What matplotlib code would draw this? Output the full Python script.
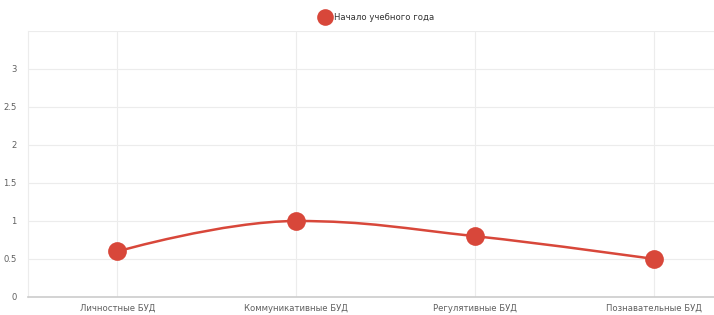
import matplotlib.pyplot as plt
from matplotlib.path import Path
from matplotlib.patches import PathPatch
from matplotlib.lines import Line2D

categories = ['Личностные БУД', 'Коммуникативные БУД', 'Регулятивные БУД', 'Познавательные БУД']
values = [0.6, 1, 0.8, 0.5]
series_name = 'Начало учебного года'
yticks = [0, 0.5, 1, 1.5, 2, 2.5, 3]

red = '#d8473a'


def spline_path(xs, ys, smoothing=1.5):
    # highcharts-like spline: cubic bezier control points around every point
    n = len(xs)
    denom = smoothing + 1
    ctrl = []
    for i in range(n):
        x, y = xs[i], ys[i]
        if 0 < i < n - 1:
            lx, ly = xs[i - 1], ys[i - 1]
            nx, ny = xs[i + 1], ys[i + 1]
            lcx = (smoothing * x + lx) / denom
            lcy = (smoothing * y + ly) / denom
            rcx = (smoothing * x + nx) / denom
            rcy = (smoothing * y + ny) / denom
            corr = ((rcy - lcy) * (rcx - x)) / (rcx - lcx) + y - rcy
            lcy += corr
            rcy += corr
            if lcy > ly and lcy > y:
                lcy = max(ly, y)
                rcy = 2 * y - lcy
            elif lcy < ly and lcy < y:
                lcy = min(ly, y)
                rcy = 2 * y - lcy
            if rcy > ny and rcy > y:
                rcy = max(ny, y)
                lcy = 2 * y - rcy
            elif rcy < ny and rcy < y:
                rcy = min(ny, y)
                lcy = 2 * y - rcy
            ctrl.append(((lcx, lcy), (rcx, rcy)))
        else:
            ctrl.append(((x, y), (x, y)))
    verts = [(xs[0], ys[0])]
    codes = [Path.MOVETO]
    for i in range(1, n):
        verts += [ctrl[i - 1][1], ctrl[i][0], (xs[i], ys[i])]
        codes += [Path.CURVE4] * 3
    return Path(verts, codes)


fig = plt.figure(figsize=(7.14, 3.15), dpi=100)
ax = fig.add_axes([28 / 714, 18 / 315, 1 - 28 / 714, 266 / 315])

xs = list(range(len(categories)))
ax.add_patch(PathPatch(spline_path(xs, values), facecolor='none', edgecolor=red, lw=1.8, zorder=3))
ax.plot(xs, values, 'o', color=red, ms=13.5, mec='none', zorder=4)

ax.set_xlim(-0.5, 3.335)
ax.set_ylim(0, 3.5)
ax.set_yticks(yticks + [3.5])
ax.set_yticklabels([str(t) if t != int(t) else str(int(t)) for t in yticks] + [''])
ax.set_xticks(xs)
ax.set_xticklabels(categories)
ax.tick_params(length=0, labelsize=6.1, labelcolor='#606060', pad=5)
ax.tick_params(axis='y', pad=8)
ax.grid(True, color='#ececec', lw=0.8)
ax.set_axisbelow(True)
for s in ['top', 'right']:
    ax.spines[s].set_visible(False)
ax.spines['left'].set_color('#ececec')
ax.spines['bottom'].set_color('#cccccc')
ax.spines['bottom'].set_linewidth(1.2)

handle = Line2D([], [], marker='o', ls='none', color=red, ms=12, mec='none')
fig.legend([handle], [series_name], loc='center', bbox_to_anchor=(0.526, 0.945),
           frameon=False, fontsize=6.1, handletextpad=0.05, labelcolor='#333333')

fig.savefig('out.png', dpi=100)
